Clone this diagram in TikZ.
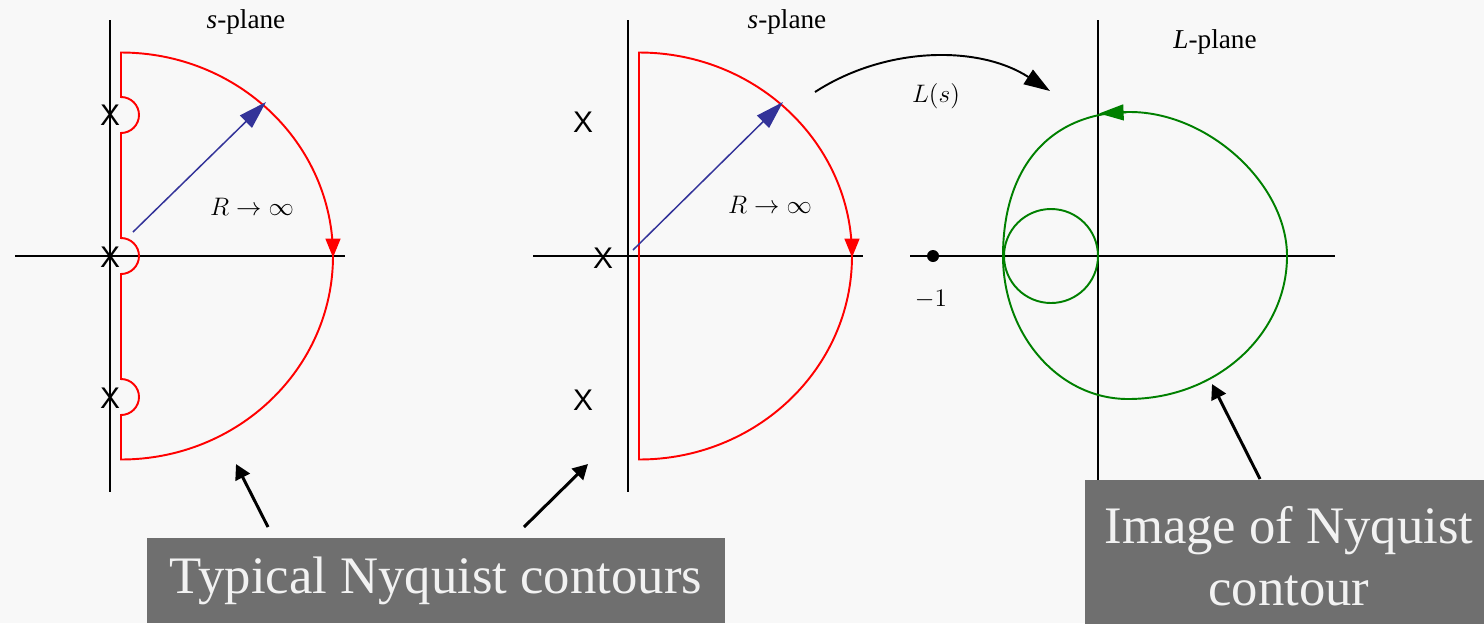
\documentclass[tikz,border=0pt]{standalone}
\usepackage{fontspec}
\setmainfont{Liberation Serif}
\newfontfamily\polefont{Liberation Sans}
\usetikzlibrary{arrows.meta}
\definecolor{bgcol}{HTML}{F8F8F8}
\definecolor{boxcol}{HTML}{6F6F6F}
\definecolor{boxtext}{HTML}{F2F2F2}
\definecolor{contourred}{HTML}{FF0000}
\definecolor{radblue}{HTML}{333399}
\definecolor{imggreen}{HTML}{008000}
\begin{document}
\begin{tikzpicture}[x=0.02cm,y=-0.02cm,
  axline/.style={black,line width=1.1pt},
  redpath/.style={contourred,line width=1.1pt},
  redtip/.style={redpath,-{Triangle[length=10.8pt,width=8.5pt]}},
  greenpath/.style={imggreen,line width=1.1pt},
  radarrow/.style={radblue,line width=0.85pt,-{Triangle[length=16pt,width=9.7pt]}},
  pole/.style={font=\polefont\fontsize{17}{17}\selectfont,inner sep=0pt},
  lbl/.style={font=\rmfamily\fontsize{15.5}{15.5}\selectfont,inner sep=0pt},
  pointer/.style={black,line width=1.7pt,-{Triangle[length=8.5pt,width=9pt]}},
  caption/.style={fill=boxcol,text=boxtext,font=\rmfamily\fontsize{30}{35.3}\selectfont,align=center,inner sep=0pt}]
\fill[bgcol] (0,0) rectangle (1484,623);
\useasboundingbox (0,0) rectangle (1484,623);
% left s-plane with poles on the axis
\draw[axline] (15,256) -- (345,256);
\draw[axline] (110,20) -- (110,492);
\draw[redpath] (121,459) -- (121,415) arc (90:-90:18) -- (121,274) arc (90:-90:18) -- (121,133) arc (90:-90:18) -- (121,52.5) arc (-90:90:212 and 203.5) -- cycle;
\draw[redtip] (333,240) -- (333,257.5);
\draw[radarrow] (133,232) -- (266,102);
\node[lbl] (plane1) at (246,22) {\textit{s}-plane};
\node[lbl] (rinf1) at (252,207) {$R\rightarrow\infty$};
\node[pole] (p11) at (110,115) {X};
\node[pole] (p12) at (110,257) {X};
\node[pole] (p13) at (110,398) {X};
% middle s-plane
\draw[axline] (533,256) -- (863,256);
\draw[axline] (628,20) -- (628,492);
\draw[redpath] (639,459) -- (639,52.5) arc (-90:90:213 and 203.5) -- cycle;
\draw[redtip] (852,240) -- (852,257.5);
\draw[radarrow] (633,250) -- (783,102);
\node[lbl] (plane2) at (787,22) {\textit{s}-plane};
\node[lbl] (rinf2) at (770,205) {$R\rightarrow\infty$};
\node[pole] (p21) at (583,122) {X};
\node[pole] (p22) at (603,258) {X};
\node[pole] (p23) at (583,400) {X};
% L-plane
\draw[axline] (910,256) -- (1335,256);
\draw[axline] (1098,20) -- (1098,480);
\node[circle,fill=black,inner sep=0pt,minimum size=0.24cm] (crit) at (933,256) {};
\node[lbl] (minus1) at (931,299) {$-1$};
\node[lbl] (plane3) at (1215,42) {\textit{L}-plane};
\draw[greenpath] (1051,256) circle (47);
\draw[greenpath] (1287,256) .. controls (1287,184) and (1208,112) .. (1130,112)
  .. controls (1052,112) and (1003,165) .. (1003,256)
  .. controls (1003,335) and (1059,399) .. (1128,399)
  .. controls (1216,399) and (1287,335) .. cycle;
\draw[greenpath,-{Triangle[length=14pt,width=9pt]}] (1126,112.3) -- (1099,113.5);
% mapping arrow
\coordinate (mapfrom) at (815,92);
\coordinate (mapto) at (1050,91);
\draw[black,line width=1.1pt,-{Triangle[length=14.8pt,width=9.7pt]}] (mapfrom) .. controls (886,46) and (979,45) .. (mapto);
\node[lbl] (lofs) at (936,96) {$L\bigl(s\bigr)$};
% captions
\node[caption,minimum width=11.56cm,minimum height=1.7cm] (typical) at (436,580.5) {Typical Nyquist contours};
\node[caption,minimum width=8.16cm,minimum height=3.06cm] (image) at (1289,556.5) {Image of Nyquist\\contour};
\coordinate (tail1) at (268,527);
\coordinate (tip1) at (236,464);
\coordinate (tail2) at (524,527);
\coordinate (tip2) at (588,464);
\coordinate (tail3) at (1260,479);
\coordinate (tip3) at (1212,384);
\draw[pointer] (tail1) -- (tip1);
\draw[pointer] (tail2) -- (tip2);
\draw[pointer] (tail3) -- (tip3);
\end{tikzpicture}
\end{document}
